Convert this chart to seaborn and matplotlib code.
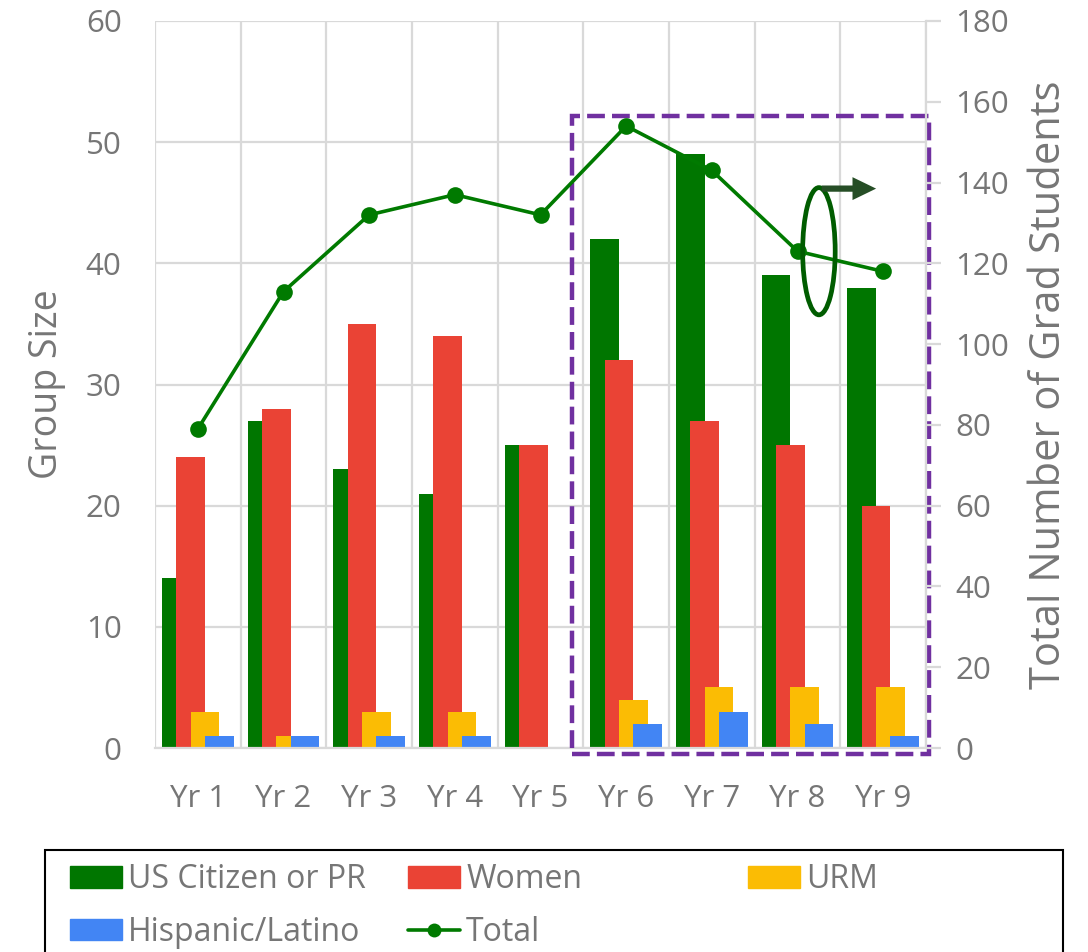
import numpy as np
import pandas as pd
import matplotlib
matplotlib.use("Agg")
import matplotlib.pyplot as plt
import seaborn as sns
from matplotlib.patches import Rectangle, Ellipse, FancyArrowPatch, Patch
from matplotlib.lines import Line2D

# ---- data ----
years = ["Yr 1", "Yr 2", "Yr 3", "Yr 4", "Yr 5", "Yr 6", "Yr 7", "Yr 8", "Yr 9"]
us_citizen = [14, 27, 23, 21, 25, 42, 49, 39, 38]
women = [24, 28, 35, 34, 25, 32, 27, 25, 20]
urm = [3, 1, 3, 3, 0, 4, 5, 5, 5]
hispanic = [1, 1, 1, 1, 0, 2, 3, 2, 1]
total = [79, 113, 132, 137, 132, 154, 143, 123, 118]

series_names = ["US Citizen or PR", "Women", "URM", "Hispanic/Latino"]
series_values = [us_citizen, women, urm, hispanic]
colors = ["#007600", "#ea4335", "#fbbc04", "#4285f4"]
line_color = "#007a00"

sns.set_theme(style="white")
plt.rcParams["font.family"] = ["Open Sans", "DejaVu Sans"]
text_gray = "#767676"
grid_gray = "#d9d9d9"

W, H = 1088, 952
fig = plt.figure(figsize=(W / 100, H / 100), dpi=100)
ax = fig.add_axes([155 / W, 1 - 748 / H, (926 - 155) / W, (748 - 21) / H])

pos = np.arange(len(years))
bar_w = 0.335
offsets = [-0.25, -0.083, 0.083, 0.25]

# overlapping clustered bars, one series at a time
for name, vals, col, off in zip(series_names, series_values, colors, offsets):
    df = pd.DataFrame({"x": pos + off, "y": vals})
    sns.barplot(data=df, x="x", y="y", native_scale=True, width=bar_w,
                color=col, saturation=1, ax=ax, linewidth=0, zorder=2)

ax.set_xlim(-0.5, len(years) - 0.5)
ax.set_ylim(0, 60)
ax.set_yticks(np.arange(0, 61, 10))
ax.set_xticks(pos)
ax.set_xticklabels(years)
ax.set_xticks(np.arange(-0.5, len(years), 1.0), minor=True)
ax.grid(False)
ax.yaxis.grid(True, color=grid_gray, lw=1.6, zorder=0)
ax.xaxis.grid(True, which="minor", color=grid_gray, lw=1.6, zorder=0)
ax.set_axisbelow(True)
ax.tick_params(axis="both", which="both", length=0, labelsize=22.5, colors=text_gray)
ax.tick_params(axis="x", pad=26)
ax.tick_params(axis="y", pad=24)
ax.set_xlabel("")
ax.set_ylabel("Group Size", fontsize=27, color=text_gray, labelpad=14)
for s in ["top", "right", "left"]:
    ax.spines[s].set_visible(False)
ax.spines["bottom"].set_color(grid_gray)
ax.spines["bottom"].set_linewidth(1.6)

# ---- total on the secondary axis ----
ax2 = ax.twinx()
sns.lineplot(x=pos, y=total, ax=ax2, color=line_color, lw=2.6, marker="o",
             markersize=12, markeredgewidth=0, zorder=4)
ax2.set_ylim(0, 180)
ax2.set_yticks(np.arange(0, 181, 20))
ax2.grid(False)
ax2.tick_params(axis="y", length=11, width=1.6, labelsize=22.5,
                labelcolor=text_gray, color=grid_gray, pad=10)
ax2.set_ylabel("Total Number of Grad Students", fontsize=30, color=text_gray, labelpad=14)
for s in ["top", "left", "bottom"]:
    ax2.spines[s].set_visible(False)
ax2.spines["right"].set_color(grid_gray)
ax2.spines["right"].set_linewidth(1.6)

# ---- highlight box over the later years ----
box = Rectangle((4.37, -0.5), 8.53 - 4.37, 52.2 + 0.5, fill=False,
                edgecolor="#7030a0", lw=3.2, ls=(0, (4, 1.6)), clip_on=False,
                zorder=6, transform=ax.transData)
ax.add_patch(box)

# ellipse and arrow pointing to the right-hand axis
ell = Ellipse((7.25, 123), 0.38, 31.5, fill=False, edgecolor="#005c00", lw=3.4,
              zorder=7, clip_on=False)
ax2.add_patch(ell)
arr = FancyArrowPatch((7.25, 138.5), (7.95, 138.5),
                      arrowstyle="simple,head_length=1.7,head_width=1.65,tail_width=0.45",
                      mutation_scale=10, color="#264e26", lw=0, zorder=7, clip_on=False)
ax2.add_patch(arr)

# ---- legend: three fixed-width columns inside one frame ----
patches = [Patch(color=c) for c in colors]
line_handle = Line2D([], [], color=line_color, lw=2.6, marker="o", markersize=10,
                     markeredgewidth=0)
columns = [
    ([patches[0], patches[3]], [series_names[0], series_names[3]], 70),
    ([patches[1], line_handle], [series_names[1], "Total"], 408),
    ([patches[2]], [series_names[2]], 748),
]
for hs, ls_, x0 in columns:
    lg = fig.legend(hs, ls_, loc="upper left", bbox_to_anchor=(x0 / W, 1 - 863 / H),
                    fontsize=23, frameon=False, handlelength=1.62, handleheight=0.66,
                    handletextpad=0.2, borderpad=0, labelspacing=0.62, borderaxespad=0)
    for t in lg.get_texts():
        t.set_color(text_gray)

frame = Rectangle((45 / W, -0.02), (1063 - 45) / W, 0.02 + 1 - 850 / H,
                  transform=fig.transFigure, fill=False, edgecolor="black", lw=1.5)
fig.add_artist(frame)

fig.savefig("out.png", dpi=100)
